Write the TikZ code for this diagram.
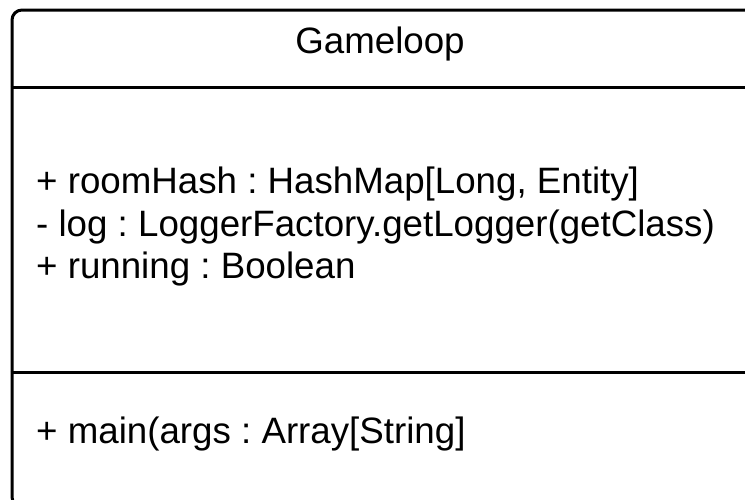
\documentclass[tikz,border=0pt]{standalone}
\usepackage{fontspec}
\setmainfont{Liberation Sans}
\usepackage{tikz}
\usetikzlibrary{positioning}
\frenchspacing
\tikzset{x=1pt,y=-1pt,every node/.style={inner sep=0pt,font=\fontsize{36.7}{42}\selectfont},
  classbox/.style={draw,rectangle,rounded corners=10pt,line width=3pt,minimum width=750pt,minimum height=497pt},
  member/.style={anchor=base west},
  divider/.style={line width=3pt}}

\begin{document}
\begin{tikzpicture}
    \useasboundingbox (0,0) rectangle (745,499);
    \node[classbox] (class) at (387,258.5) {};
    \node[anchor=base] (name) at (380,53) {Gameloop};
    \coordinate (head) at (0,87);
    \coordinate (ops) at (0,372);
    \draw[divider] (class.west |- head) -- (class.east |- head);
    \draw[divider] (class.west |- ops) -- (class.east |- ops);
    \node[member] (room) at (36,193) {+ roomHash : HashMap[Long, Entity]};
    \node[member] (log) at (36,236) {- log : LoggerFactory.getLogger(getClass)};
    \node[member] (run) at (36,278) {+ running : Boolean};
    \node[member] (main) at (36,443) {+ main(args : Array[String]};
\end{tikzpicture}
\end{document}
